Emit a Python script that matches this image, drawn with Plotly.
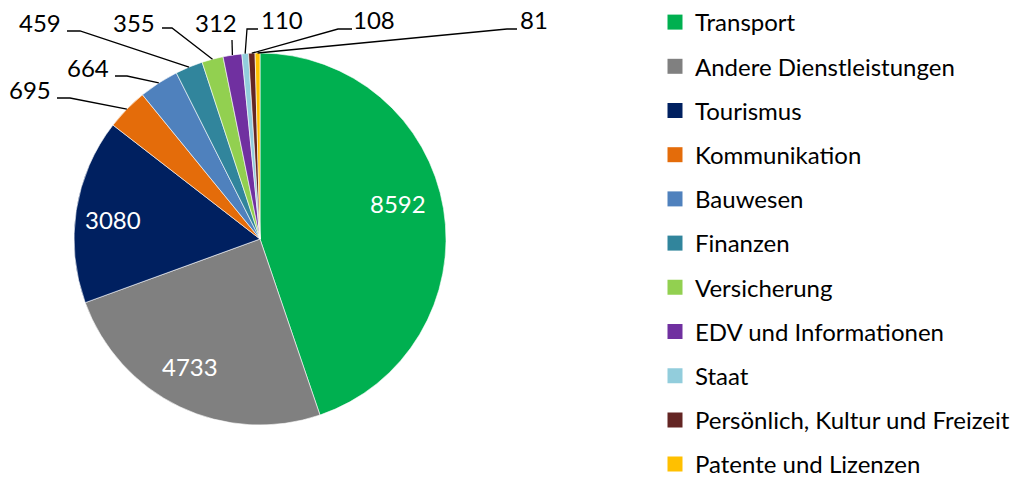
import math
import plotly.graph_objects as go

# ---- data ----
categories = ["Transport", "Andere Dienstleistungen", "Tourismus", "Kommunikation",
              "Bauwesen", "Finanzen", "Versicherung", "EDV und Informationen",
              "Staat", "Persönlich, Kultur und Freizeit", "Patente und Lizenzen"]
values = [8592, 4733, 3080, 695, 664, 459, 355, 312, 110, 108, 81]
colors = ["#00B050", "#808080", "#002060", "#E46C0A", "#4F81BD", "#31859C",
          "#92D050", "#7030A0", "#92CDDC", "#632523", "#FFC000"]

# ---- layout constants (pixels) ----
W, H = 1025, 477
CX, CY, R = 260, 239, 186
FONT = "Lato"
FS = 24
INSIDE_FRAC = 0.76
# small pixel nudges of the inside labels: index -> (dx, dy)
inside_nudge = {0: (-1, -12), 1: (-9, 0), 2: (-7, 2)}
# outside label layout: index -> (label x, label y, tail x, elbow x, line y)
outside_layout = {
    3: (30, 90, 57, 70, 98),
    4: (88, 67, 115, 127, 76),
    5: (40, 23, 67, 80, 31),
    6: (134, 22, 162, 172, 28),
    7: (216, 23, 232, 232, 40),
    8: (282, 20, 258, 247, 29),
    9: (374, 20, 352, 338, 29),
    10: (534, 20, 517, 507, 29),
}
LEG_X = 655
LEG_FIRST_Y = 22
LEG_STEP = 44.2
LEG_SPLIT = 6
LEG_TOP_OFFSET = 22  # legend top -> first item centre


def px(x):
    return x / W


def py(y):
    return 1 - y / H


fig = go.Figure()
fig.add_trace(go.Pie(
    labels=categories, values=values, sort=False, direction="clockwise",
    rotation=0, textinfo="none", showlegend=False,
    marker=dict(colors=colors, line=dict(color="white", width=0.6)),
    domain=dict(x=[px(CX - R), px(CX + R)], y=[py(CY + R), py(CY - R)]),
))

# legend via marker-only traces (split over two legends to avoid scrolling)
for k, (cat, col) in enumerate(zip(categories, colors)):
    fig.add_trace(go.Scatter(
        x=[None], y=[None], mode="markers", name=cat, legendgroup=cat,
        legend="legend" if k < LEG_SPLIT else "legend2",
        marker=dict(symbol="square", size=15, color=col),
        hoverinfo="skip",
    ))

total = sum(values)
annotations = []
shapes = []
cum = 0
for i, v in enumerate(values):
    theta = 2 * math.pi * (cum + v / 2) / total
    cum += v
    s, c = math.sin(theta), math.cos(theta)
    if i in outside_layout:
        lx, ly, tx, ex, ly2 = outside_layout[i]
        edge_x = CX + R * s
        edge_y = CY - R * c
        path = (f"M {px(tx)} {py(ly2)} L {px(ex)} {py(ly2)} "
                f"L {px(edge_x)} {py(edge_y)}")
        shapes.append(dict(type="path", path=path, xref="paper", yref="paper",
                           line=dict(color="black", width=1.3)))
        annotations.append(dict(x=px(lx), y=py(ly), xref="paper", yref="paper",
                                text=str(v), showarrow=False,
                                xanchor="center", yanchor="middle",
                                font=dict(family=FONT, size=FS, color="black")))
    else:
        dx, dy = inside_nudge.get(i, (0, 0))
        ax = CX + R * INSIDE_FRAC * s + dx
        ay = CY - R * INSIDE_FRAC * c + dy
        annotations.append(dict(x=px(ax), y=py(ay), xref="paper", yref="paper",
                                text=str(v), showarrow=False,
                                xanchor="center", yanchor="middle",
                                font=dict(family=FONT, size=FS, color="white")))

item_h = FS * 1.3 + 3
leg_common = dict(x=px(LEG_X), xanchor="left", yanchor="top",
                  tracegroupgap=LEG_STEP - item_h, itemclick=False,
                  itemdoubleclick=False, maxheight=H,
                  font=dict(family=FONT, size=FS, color="black"),
                  bgcolor="rgba(0,0,0,0)")
top1 = LEG_FIRST_Y - LEG_TOP_OFFSET
top2 = top1 + LEG_SPLIT * LEG_STEP
fig.update_layout(
    width=W, height=H,
    margin=dict(l=0, r=0, t=0, b=0, autoexpand=False),
    paper_bgcolor="white", plot_bgcolor="white",
    font=dict(family=FONT, size=FS, color="black"),
    xaxis=dict(visible=False), yaxis=dict(visible=False),
    showlegend=True,
    legend=dict(y=py(top1), **leg_common),
    legend2=dict(y=py(top2), **leg_common),
    annotations=annotations, shapes=shapes,
)

fig.write_html("out.html", config={"displayModeBar": False},
               post_script="document.body.style.margin='0';"
                           "document.body.style.overflow='hidden';")
